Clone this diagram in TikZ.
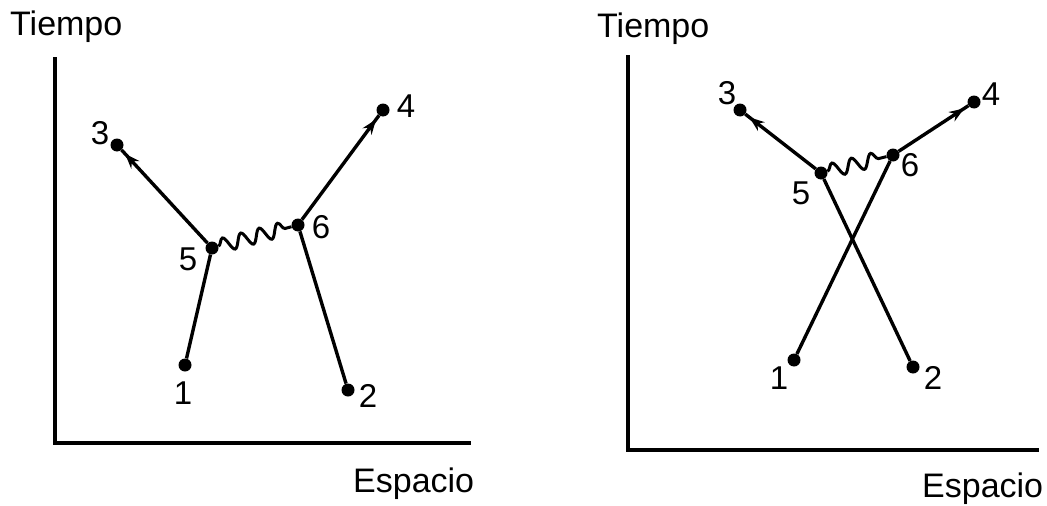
\documentclass[tikz,border=0pt]{standalone}
\usepackage{fontspec}
\setmainfont{Liberation Sans}
\usetikzlibrary{decorations.pathmorphing,decorations.markings,arrows.meta}
\begin{document}
\begin{tikzpicture}[x=1pt,y=-1pt,
  dot/.style={circle,fill=black,inner sep=0pt,minimum size=13pt},
  num/.style={font=\fontsize{33}{33}\selectfont,inner sep=0pt},
  word/.style={font=\fontsize{34}{34}\selectfont,inner sep=0pt,anchor=base west},
  axisline/.style={line width=3.4pt},
  worldline/.style={line width=3.4pt},
  wave/.style={line width=3pt,decorate,decoration={snake,segment length=#1,amplitude=7pt}},
  arrowed/.style={postaction={decorate},decoration={markings,mark=at position -5pt with {\arrow{Stealth[length=15pt,width=11pt]}}}}
]
\useasboundingbox (0,0) rectangle (1047,506);

% ---------- left panel ----------
\coordinate (LT) at (55,57);
\coordinate (LO) at (55,443);
\coordinate (LR) at (471,443);
\draw[axisline] (LT) -- (LO) -- (LR);
\node[word] (ltiempo) at (10,35) {Tiempo};
\node[word] (lespacio) at (353,492) {Espacio};

\node[dot] (l1) at (185,365) {};
\node[dot] (l2) at (348,390) {};
\node[dot] (l3) at (117,145) {};
\node[dot] (l4) at (383,110) {};
\node[dot] (l5) at (212,248) {};
\node[dot] (l6) at (298,225) {};

\node[num] (ln1) at (183,393) {1};
\node[num] (ln2) at (368,396) {2};
\node[num] (ln3) at (100,133) {3};
\node[num] (ln4) at (406,106) {4};
\node[num] (ln5) at (188,259) {5};
\node[num] (ln6) at (321,227) {6};

\draw[worldline] (l1) -- (l5);
\draw[worldline] (l2) -- (l6);
\draw[worldline,arrowed] (l5) -- (l3);
\draw[worldline,arrowed] (l6) -- (l4);
\draw[wave=19pt] (l5) -- (l6);

% ---------- right panel ----------
\coordinate (RT) at (628,55);
\coordinate (RO) at (628,450);
\coordinate (RR) at (1039,450);
\draw[axisline] (RT) -- (RO) -- (RR);
\node[word] (rtiempo) at (597,37) {Tiempo};
\node[word] (respacio) at (922,497) {Espacio};

\node[dot] (r1) at (794,360) {};
\node[dot] (r2) at (913,367) {};
\node[dot] (r3) at (740,110) {};
\node[dot] (r4) at (974,102) {};
\node[dot] (r5) at (821,173) {};
\node[dot] (r6) at (893,155) {};

\node[num] (rn1) at (779,378) {1};
\node[num] (rn2) at (933,378) {2};
\node[num] (rn3) at (727,93) {3};
\node[num] (rn4) at (991,94) {4};
\node[num] (rn5) at (801,193) {5};
\node[num] (rn6) at (910,165) {6};

\draw[worldline] (r1) -- (r6);
\draw[worldline] (r2) -- (r5);
\draw[worldline,arrowed] (r5) -- (r3);
\draw[worldline,arrowed] (r6) -- (r4);
\draw[wave=20pt] (r5) -- (r6);
\end{tikzpicture}
\end{document}
